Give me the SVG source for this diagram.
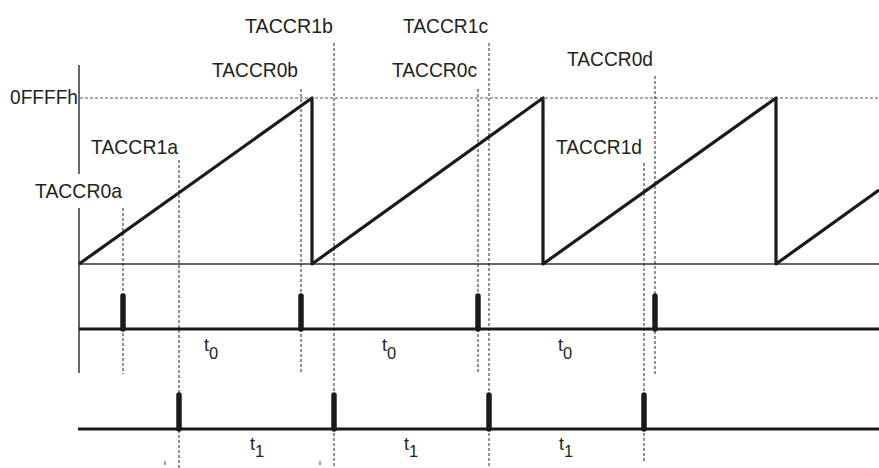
<svg xmlns="http://www.w3.org/2000/svg" width="879" height="468" viewBox="0 0 879 468">
<style>
.lbl{font-family:"Liberation Sans",Arial,sans-serif;font-size:21px;fill:#231f20}
.t{font-family:"Liberation Sans",Arial,sans-serif;font-size:18px;fill:#231f20}
.sub{font-size:16.5px}
.thin{stroke:#333;stroke-width:1.5;fill:none}
.dash{stroke:#222;stroke-width:1;stroke-dasharray:3 2;fill:none}
.hdash{stroke:#555;stroke-width:1;stroke-dasharray:3 2;fill:none}
.ramp{stroke:#1a1a1a;stroke-width:3.2;fill:none;stroke-linejoin:round}
.base{stroke:#1a1a1a;stroke-width:3;fill:none}
.pulse{stroke:#1a1a1a;stroke-width:5.5;stroke-linecap:round;fill:none}
</style>
<rect width="879" height="468" fill="#fff"/>
<g id="axes">
<line class="thin" x1="79" y1="65" x2="79" y2="174"/>
<line class="thin" x1="79" y1="208" x2="79" y2="373"/>
<line class="thin" x1="79" y1="264" x2="879" y2="264"/>
<line class="hdash" x1="80" y1="98" x2="879" y2="98"/>
</g>
<g id="connectors">
<line class="dash" x1="123" y1="208" x2="123" y2="374"/>
<line class="dash" x1="179" y1="160" x2="179" y2="468"/>
<line class="dash" x1="301" y1="89" x2="301" y2="374"/>
<line class="dash" x1="334" y1="43" x2="334" y2="468"/>
<line class="dash" x1="478" y1="89" x2="478" y2="374"/>
<line class="dash" x1="489" y1="43" x2="489" y2="468"/>
<line class="dash" x1="655" y1="76" x2="655" y2="374"/>
<line class="dash" x1="644" y1="163" x2="644" y2="462"/>
<line stroke="#444" stroke-width="1" x1="165" y1="461" x2="165" y2="465"/>
<line stroke="#444" stroke-width="1" x1="320" y1="461" x2="320" y2="465"/>
</g>
<g id="ramp">
<polyline class="ramp" points="79,264 312,98 312,264 543,98 543,264 776,98 776,264 879,190"/>
</g>
<g id="ccr0-output">
<line class="base" x1="79" y1="329" x2="879" y2="329"/>
<line class="pulse" x1="123" y1="296" x2="123" y2="329"/>
<line class="pulse" x1="301" y1="296" x2="301" y2="329"/>
<line class="pulse" x1="478" y1="296" x2="478" y2="329"/>
<line class="pulse" x1="655" y1="296" x2="655" y2="329"/>
<text class="t" x="204" y="351">t<tspan class="sub" dy="8">0</tspan></text>
<text class="t" x="382" y="351">t<tspan class="sub" dy="8">0</tspan></text>
<text class="t" x="558" y="351">t<tspan class="sub" dy="8">0</tspan></text>
</g>
<g id="ccr1-output">
<line class="base" x1="78" y1="429" x2="879" y2="429"/>
<line class="pulse" x1="179" y1="395" x2="179" y2="429"/>
<line class="pulse" x1="334" y1="395" x2="334" y2="429"/>
<line class="pulse" x1="489" y1="395" x2="489" y2="429"/>
<line class="pulse" x1="644" y1="395" x2="644" y2="429"/>
<text class="t" x="250" y="450">t<tspan class="sub" dy="7">1</tspan></text>
<text class="t" x="404" y="450">t<tspan class="sub" dy="7">1</tspan></text>
<text class="t" x="559" y="450">t<tspan class="sub" dy="7">1</tspan></text>
</g>
<g id="labels">
<text class="lbl" x="10" y="104" textLength="68" lengthAdjust="spacingAndGlyphs">0FFFFh</text>
<text class="lbl" x="35" y="198" textLength="87" lengthAdjust="spacingAndGlyphs">TACCR0a</text>
<text class="lbl" x="91" y="154" textLength="87" lengthAdjust="spacingAndGlyphs">TACCR1a</text>
<text class="lbl" x="212" y="77" textLength="86" lengthAdjust="spacingAndGlyphs">TACCR0b</text>
<text class="lbl" x="245" y="33" textLength="88" lengthAdjust="spacingAndGlyphs">TACCR1b</text>
<text class="lbl" x="392" y="77" textLength="85" lengthAdjust="spacingAndGlyphs">TACCR0c</text>
<text class="lbl" x="403" y="33" textLength="85" lengthAdjust="spacingAndGlyphs">TACCR1c</text>
<text class="lbl" x="567" y="66" textLength="86" lengthAdjust="spacingAndGlyphs">TACCR0d</text>
<text class="lbl" x="556" y="154" textLength="86" lengthAdjust="spacingAndGlyphs">TACCR1d</text>
</g>
</svg>
